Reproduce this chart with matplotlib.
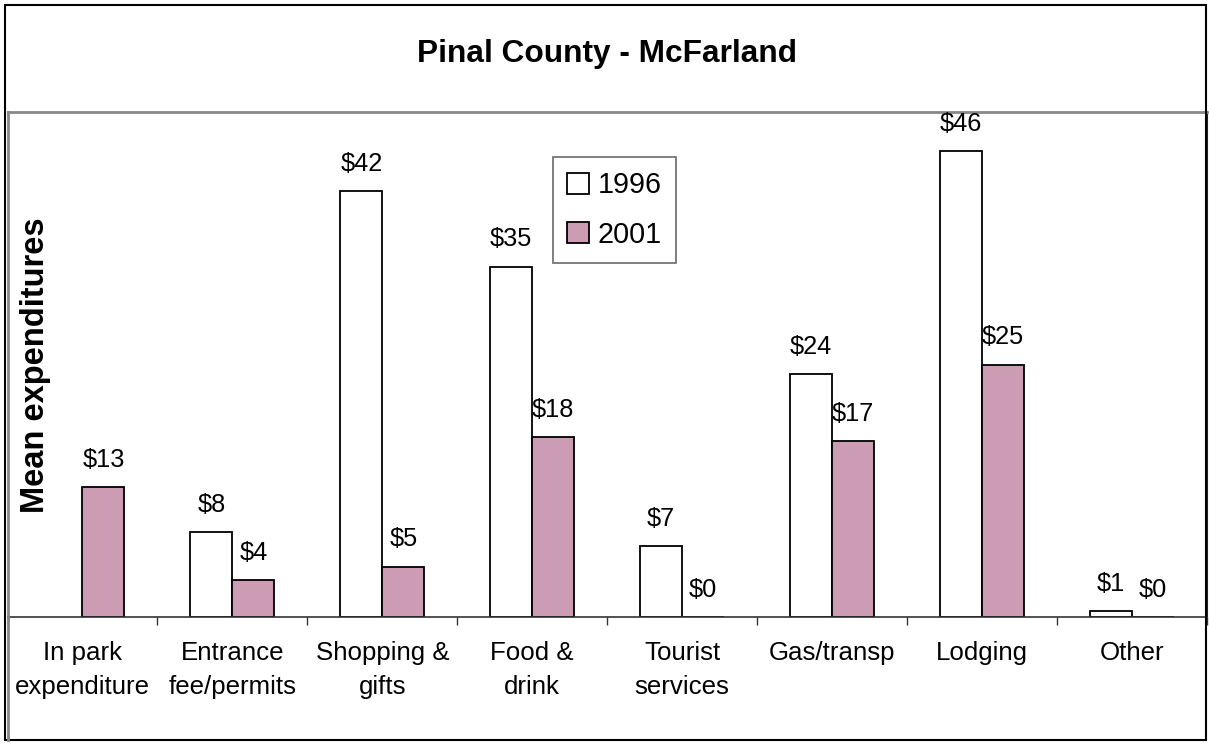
import numpy as np
import matplotlib
matplotlib.use("Agg")
import matplotlib.pyplot as plt
from matplotlib.patches import Rectangle

plt.rcParams['font.family'] = ['Liberation Sans', 'DejaVu Sans']

categories = ["In park\nexpenditure", "Entrance\nfee/permits", "Shopping &\ngifts",
              "Food &\ndrink", "Tourist\nservices", "Gas/transp", "Lodging", "Other"]
vals_1996 = [np.nan, 8.4, 42.2, 34.7, 7.0, 24.1, 46.1, 0.6]
vals_2001 = [12.9, 3.7, 5.0, 17.8, 0.0, 17.4, 25.0, 0.0]
series_names = ["1996", "2001"]
title = "Pinal County - McFarland"
ylabel = "Mean expenditures"

W, H = 1209, 743
fig = plt.figure(figsize=(W / 100, H / 100), dpi=100)

left, right, top, bottom = 7.5, 1207, 112, 617
ax = fig.add_axes([left / W, 1 - bottom / H, (right - left) / W, (bottom - top) / H])

x = np.arange(len(categories))
bw = 0.28
pink = '#CC9CB4'
b1 = ax.bar(x - bw / 2, vals_1996, bw, color='white', edgecolor='black', linewidth=1.3, label=series_names[0])
b2 = ax.bar(x + bw / 2, vals_2001, bw, color=pink, edgecolor='black', linewidth=1.3, label=series_names[1])

for bars, vals in ((b1, vals_1996), (b2, vals_2001)):
    for rect, v in zip(bars, vals):
        if np.isnan(v):
            continue
        ax.annotate(f"${v:.0f}", (rect.get_x() + rect.get_width() / 2, v),
                    xytext=(0, 19.5), textcoords='offset points',
                    ha='center', va='center', fontsize=18.3)

ax.set_xlim(-0.5, len(categories) - 0.5)
ax.set_ylim(0, 50)
ax.set_yticks([])
ax.set_xticks(x)
ax.set_xticklabels(categories, fontsize=18.6, linespacing=1.5)
ax.tick_params(axis='x', which='major', length=0, pad=17.5)
ax.set_xticks(np.arange(len(categories) + 1) - 0.5, minor=True)
ax.tick_params(axis='x', which='minor', length=6, width=1, color='#333333')

ax.spines['top'].set_color('#888888')
ax.spines['left'].set_color('#888888')
ax.spines['top'].set_linewidth(2)
ax.spines['left'].set_linewidth(2)
ax.spines['right'].set_color('#222222')
ax.spines['right'].set_linewidth(1.5)
ax.spines['bottom'].set_color('#333333')
ax.spines['bottom'].set_linewidth(1.2)

# outer border
fig.patches.append(Rectangle((5 / W, 3 / H), (W - 8) / W, (H - 8) / H, transform=fig.transFigure,
                             fill=False, edgecolor='black', linewidth=1.5))
# left plot-area line continuing down
fig.add_artist(plt.Line2D([left / W, left / W], [3 / H, 1 - bottom / H], transform=fig.transFigure,
                          color='#888888', linewidth=2))

fig.text(607 / W, 1 - 54 / H, title, ha='center', va='center', fontsize=22.8, fontweight='bold')
fig.text(36 / W, 1 - 365 / H, ylabel, ha='center', va='center', rotation=90, fontsize=23.5, fontweight='bold')

leg = ax.legend(loc='upper left', bbox_to_anchor=(553 / W, 1 - 157 / H), bbox_transform=fig.transFigure,
                borderaxespad=0, fontsize=20.7, handlelength=0.75, handleheight=0.75, handletextpad=0.3,
                fancybox=False, frameon=True, borderpad=0.5, labelspacing=0.75)
leg.get_frame().set_edgecolor('#444444')
leg.get_frame().set_linewidth(1.2)

fig.savefig("out.png", dpi=100)
